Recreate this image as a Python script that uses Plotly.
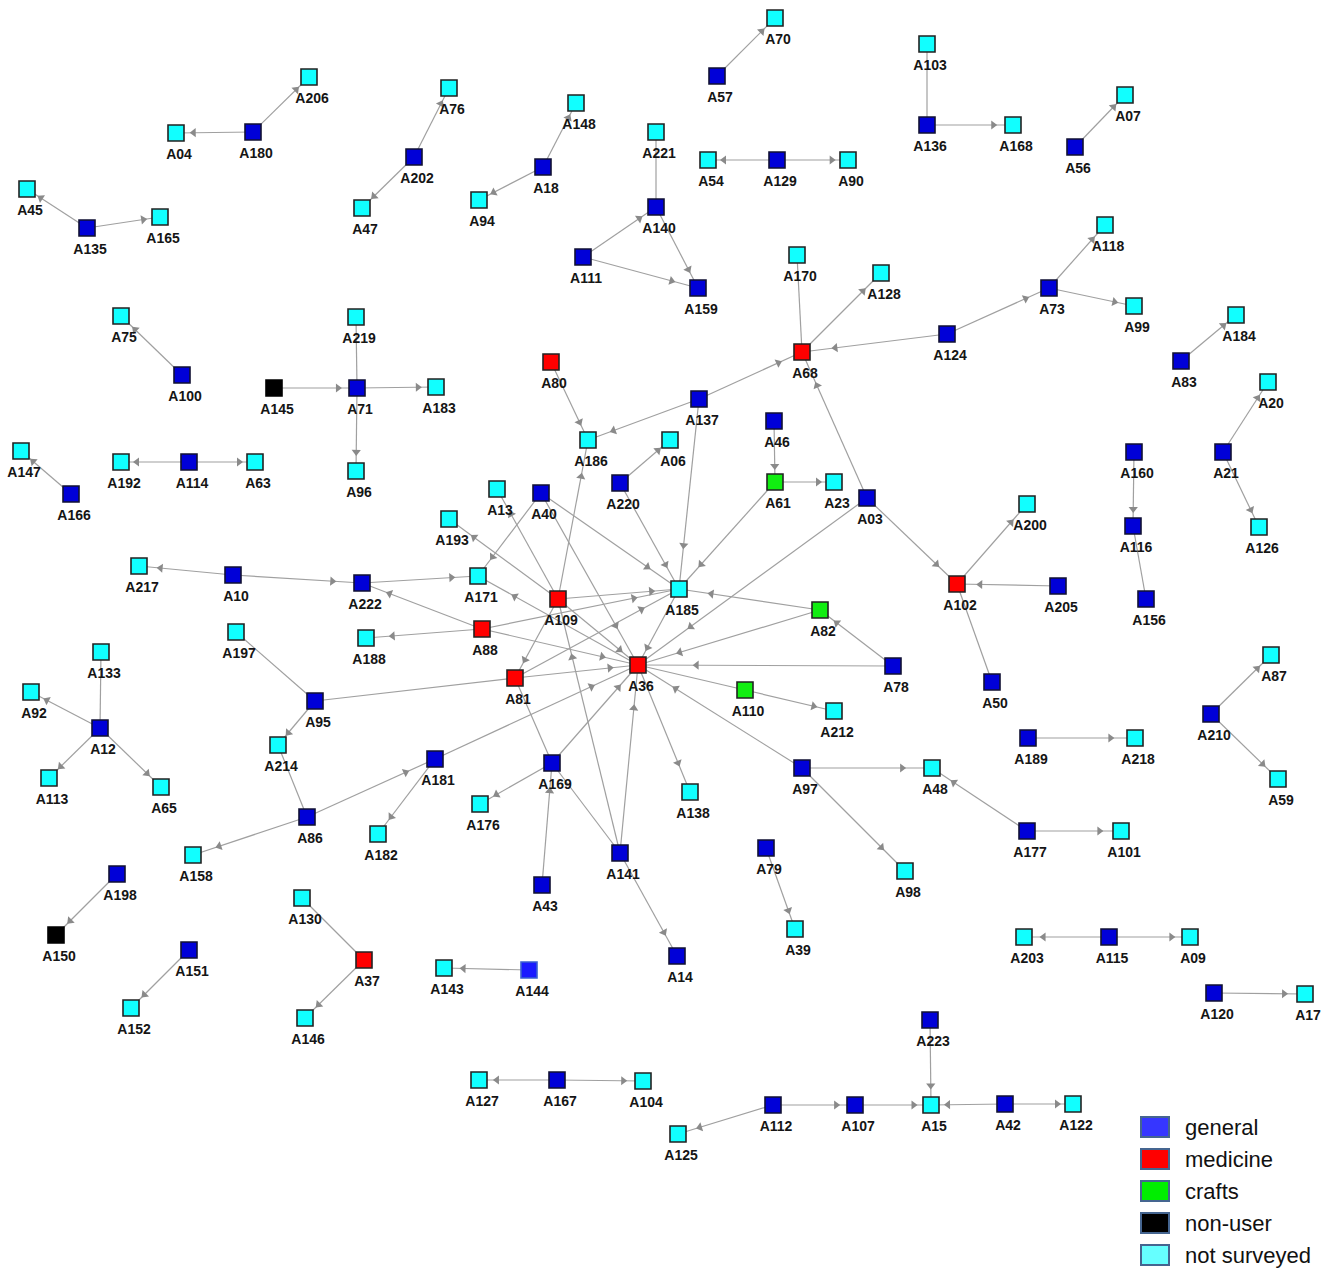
import math
import plotly.graph_objects as go

# ---------------- data ----------------
node_names = [
    "A206", "A04", "A180", "A45", "A135", "A165", "A76", "A202", "A47", "A148",
    "A18", "A94", "A221", "A140", "A111", "A159", "A70", "A57", "A54", "A129",
    "A90", "A103", "A136", "A168", "A56", "A07", "A118", "A73", "A99", "A170",
    "A128", "A68", "A124", "A184", "A83", "A20", "A21", "A126", "A160", "A116",
    "A156", "A75", "A100", "A219", "A145", "A71", "A183", "A96", "A147", "A166",
    "A192", "A114", "A63", "A80", "A137", "A186", "A06", "A46", "A61", "A23",
    "A03", "A220", "A13", "A40", "A193", "A200", "A217", "A10", "A222", "A171",
    "A109", "A185", "A82", "A102", "A205", "A88", "A188", "A197", "A133", "A36",
    "A78", "A81", "A95", "A110", "A212", "A50", "A92", "A12", "A214", "A181",
    "A169", "A189", "A218", "A210", "A87", "A59", "A97", "A48", "A113", "A65",
    "A86", "A176", "A138", "A141", "A177", "A101", "A182", "A158", "A79", "A98",
    "A198", "A43", "A130", "A39", "A150", "A203", "A115", "A09", "A151", "A37",
    "A143", "A144", "A14", "A120", "A17", "A152", "A146", "A223", "A127", "A167",
    "A104", "A112", "A107", "A15", "A42", "A122", "A125",
]
node_x = [
    309, 176, 253, 27, 87, 160, 449, 414, 362, 576,
    543, 479, 656, 656, 583, 698, 775, 717, 708, 777,
    848, 927, 927, 1013, 1075, 1125, 1105, 1049, 1134, 797,
    881, 802, 947, 1236, 1181, 1268, 1223, 1259, 1134, 1133,
    1146, 121, 182, 356, 274, 357, 436, 356, 21, 71,
    121, 189, 255, 551, 699, 588, 670, 774, 775, 834,
    867, 620, 497, 541, 449, 1027, 139, 233, 362, 478,
    558, 679, 820, 957, 1058, 482, 366, 236, 101, 638,
    893, 515, 315, 745, 834, 992, 31, 100, 278, 435,
    552, 1028, 1135, 1211, 1271, 1278, 802, 932, 49, 161,
    307, 480, 690, 620, 1027, 1121, 378, 193, 766, 905,
    117, 542, 302, 795, 56, 1024, 1109, 1190, 189, 364,
    444, 529, 677, 1214, 1305, 131, 305, 930, 479, 557,
    643, 773, 855, 931, 1005, 1073, 678,
]
node_y = [
    77, 133, 132, 189, 228, 217, 88, 157, 208, 103,
    167, 200, 132, 207, 257, 288, 18, 76, 160, 160,
    160, 44, 125, 125, 147, 95, 225, 288, 306, 255,
    273, 352, 334, 315, 361, 382, 452, 527, 452, 526,
    599, 316, 375, 317, 388, 388, 387, 471, 451, 494,
    462, 462, 462, 362, 399, 440, 440, 421, 482, 482,
    498, 483, 489, 493, 519, 504, 566, 575, 583, 576,
    599, 589, 610, 584, 586, 629, 638, 632, 652, 665,
    666, 678, 701, 690, 711, 682, 692, 728, 745, 759,
    763, 738, 738, 714, 655, 779, 768, 768, 778, 787,
    817, 804, 792, 853, 831, 831, 834, 855, 848, 871,
    874, 885, 898, 929, 935, 937, 937, 937, 950, 960,
    968, 970, 956, 993, 994, 1008, 1018, 1020, 1080, 1080,
    1081, 1105, 1105, 1105, 1104, 1104, 1134,
]
G, M, C, N, S, GL = "general", "medicine", "crafts", "non-user", "not surveyed", "general (light)"
node_type = [
    S, S, G, S, G, S, S, G, S, S,
    G, S, S, G, G, G, S, G, S, G,
    S, S, G, S, G, S, S, G, S, S,
    S, M, G, S, G, S, G, S, G, G,
    G, S, G, S, N, G, S, S, S, G,
    S, G, S, M, G, S, S, G, C, S,
    G, G, S, G, S, S, S, G, G, S,
    M, S, C, M, G, M, S, S, S, M,
    G, M, G, C, S, G, S, G, S, G,
    G, G, S, G, S, S, G, S, S, S,
    G, S, S, G, G, S, S, S, G, S,
    G, G, S, S, N, S, G, S, G, M,
    S, GL, G, G, S, S, S, G, S, G,
    S, G, G, S, G, S, S,
]

edge_src = [
    "A180", "A180", "A135", "A135", "A202", "A202", "A18", "A18", "A221", "A111",
    "A111", "A140", "A57", "A129", "A129", "A103", "A136", "A56", "A73", "A73",
    "A124", "A124", "A68", "A170", "A137", "A137", "A137", "A83", "A21", "A21",
    "A160", "A116", "A100", "A145", "A71", "A71", "A219", "A166", "A114", "A114",
    "A80", "A109", "A220", "A220", "A40", "A40", "A40", "A109", "A109", "A10",
    "A10", "A222", "A88", "A88", "A88", "A88", "A109", "A109", "A109", "A36",
    "A81", "A81", "A95", "A81", "A181", "A86", "A181", "A86", "A169", "A169",
    "A43", "A169", "A141", "A141", "A141", "A36", "A97", "A97", "A97", "A36",
    "A110", "A78", "A78", "A82", "A82", "A03", "A03", "A03", "A61", "A46",
    "A61", "A185", "A102", "A205", "A102", "A177", "A177", "A189", "A210", "A210",
    "A79", "A198", "A151", "A12", "A12", "A12", "A133", "A130", "A37", "A144",
    "A115", "A115", "A120", "A223", "A167", "A167", "A112", "A107", "A42", "A42",
    "A112", "A197", "A95", "A214",
]
edge_dst = [
    "A04", "A206", "A45", "A165", "A76", "A47", "A148", "A94", "A140", "A140",
    "A159", "A159", "A70", "A54", "A90", "A136", "A168", "A07", "A118", "A99",
    "A73", "A68", "A128", "A68", "A68", "A186", "A185", "A184", "A20", "A126",
    "A116", "A156", "A75", "A71", "A183", "A96", "A71", "A147", "A192", "A63",
    "A186", "A186", "A06", "A185", "A171", "A185", "A36", "A13", "A193", "A217",
    "A222", "A171", "A222", "A188", "A36", "A185", "A185", "A36", "A81", "A171",
    "A36", "A185", "A81", "A169", "A36", "A181", "A182", "A158", "A176", "A36",
    "A169", "A141", "A109", "A36", "A14", "A138", "A36", "A48", "A98", "A110",
    "A212", "A36", "A82", "A185", "A36", "A36", "A68", "A102", "A185", "A61",
    "A23", "A36", "A200", "A102", "A50", "A48", "A101", "A218", "A87", "A59",
    "A39", "A150", "A152", "A92", "A113", "A65", "A12", "A37", "A146", "A143",
    "A203", "A09", "A17", "A15", "A127", "A104", "A107", "A15", "A15", "A122",
    "A125", "A95", "A214", "A86",
]
edge_arrow = [
    1, 1, 1, 1, 1, 1, 1, 1, 0, 1,
    1, 1, 1, 1, 1, 0, 1, 1, 1, 1,
    1, 1, 1, 0, 1, 1, 1, 1, 1, 1,
    1, 0, 1, 1, 1, 1, 0, 1, 1, 1,
    1, 1, 1, 1, 1, 1, 1, 1, 1, 1,
    1, 1, 1, 1, 1, 1, 1, 1, 1, 1,
    1, 1, 0, 0, 1, 1, 1, 1, 1, 1,
    1, 0, 1, 1, 1, 1, 1, 1, 1, 0,
    1, 1, 1, 1, 1, 1, 1, 1, 1, 1,
    1, 1, 1, 1, 0, 1, 1, 1, 1, 1,
    1, 1, 1, 1, 1, 1, 0, 0, 1, 1,
    1, 1, 1, 1, 1, 1, 1, 1, 1, 1,
    1, 0, 1, 0,
]

legend_labels = ["general", "medicine", "crafts", "non-user", "not surveyed"]

# ---------------- styles ----------------
fill = {G: "#0000d8", M: "#ff0000", C: "#11ee11", N: "#000000", S: "#11ffff", GL: "#1a1aff"}
border = {G: "#111133", M: "#222222", C: "#222222", N: "#000000", S: "#222222", GL: "#3a60d0"}
legend_fill = {"general": "#3636ff", "medicine": "#ff0000", "crafts": "#00ee00",
               "non-user": "#000000", "not surveyed": "#66ffff"}

W, H = 1327, 1271
pos = {n: (x, y) for n, x, y in zip(node_names, node_x, node_y)}

# edges
ex, ey = [], []
ax_, ay_, aang = [], [], []
for s, d, a in zip(edge_src, edge_dst, edge_arrow):
    x0, y0 = pos[s]
    x1, y1 = pos[d]
    ex += [x0, x1, None]
    ey += [y0, y1, None]
    if a:
        dx, dy = x1 - x0, y1 - y0
        L = math.hypot(dx, dy)
        back = max(16.0, 0.23 * L)
        ax_.append(x1 - dx / L * back)
        ay_.append(y1 - dy / L * back)
        aang.append(math.degrees(math.atan2(dx, -dy)))

fig = go.Figure()
fig.add_trace(go.Scatter(x=ex, y=ey, mode="lines",
                         line=dict(color="#a0a0a0", width=1.2),
                         hoverinfo="skip", showlegend=False))
fig.add_trace(go.Scatter(x=ax_, y=ay_, mode="markers",
                         marker=dict(symbol="triangle-up", size=8, color="#8a8a8a",
                                     angle=aang, line=dict(width=0)),
                         hoverinfo="skip", showlegend=False))
fig.add_trace(go.Scatter(
    x=node_x, y=node_y, mode="markers",
    marker=dict(symbol="square", size=16,
                color=[fill[t] for t in node_type],
                line=dict(color=[border[t] for t in node_type], width=1.6)),
    text=node_names, hoverinfo="text", showlegend=False, cliponaxis=False))
fig.add_trace(go.Scatter(
    x=[x + 3 for x in node_x], y=[y + 22 for y in node_y], mode="text",
    text=node_names, textposition="middle center",
    textfont=dict(family="Liberation Sans, Arial", size=14, color="#151515", weight="bold"),
    hoverinfo="skip", showlegend=False, cliponaxis=False))

# custom legend (bottom right)
leg_x0, leg_y0, leg_dy = 1141, 1127, 32
for i, lab in enumerate(legend_labels):
    yc = leg_y0 + i * leg_dy
    fig.add_shape(type="rect", xref="x", yref="y",
                  x0=leg_x0, x1=leg_x0 + 28, y0=yc - 10, y1=yc + 10,
                  fillcolor=legend_fill[lab], line=dict(color="#456590", width=2))
    fig.add_annotation(x=leg_x0 + 42, y=yc, xref="x", yref="y", text=lab,
                       showarrow=False, xanchor="left", yanchor="middle",
                       font=dict(family="Liberation Sans, Arial", size=22, color="#111111"))

fig.update_layout(
    width=W, height=H,
    margin=dict(l=0, r=0, t=0, b=0),
    paper_bgcolor="white", plot_bgcolor="white",
    xaxis=dict(range=[0, W], visible=False, fixedrange=True),
    yaxis=dict(range=[H, 0], visible=False, fixedrange=True),
    showlegend=False,
)
fig.write_html(
    "out.html",
    config={"displayModeBar": False},
    post_script="document.body.style.margin='0';document.body.style.overflow='hidden';",
)
